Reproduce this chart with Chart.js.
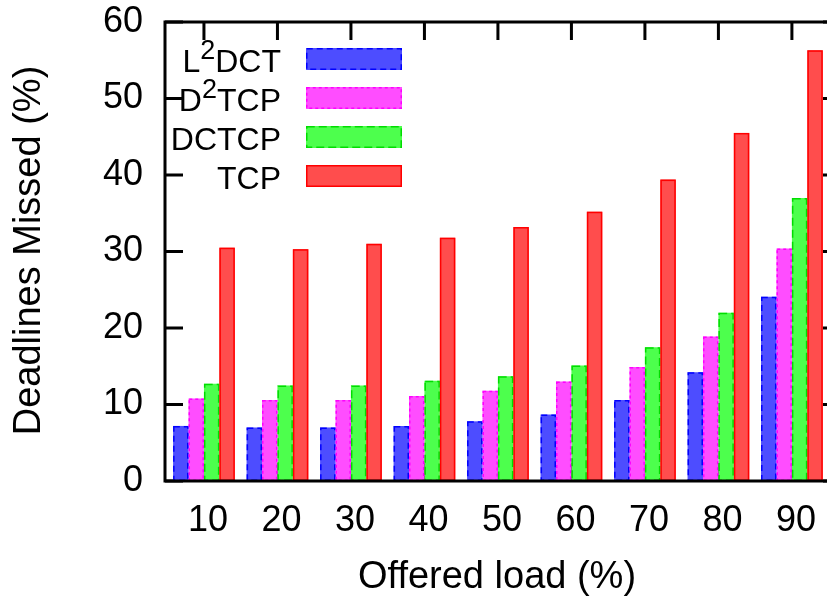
<!DOCTYPE html>
<html>
<head>
<meta charset="utf-8">
<title>Deadlines Missed vs Offered load</title>
<script src="https://cdn.jsdelivr.net/npm/chart.js@4.4.1/dist/chart.umd.min.js"></script>
<style>
  html, body { margin: 0; padding: 0; background: #fff; overflow: hidden; }
  #wrap { width: 850px; height: 599px; }
</style>
</head>
<body>
<div id="wrap"><canvas id="chart" width="850" height="599"></canvas></div>
<script>
// Offered load categories (%)
const loads = ['10', '20', '30', '40', '50', '60', '70', '80', '90'];

// Deadlines missed (%) per protocol
const l2dct = [7.2, 7.0, 7.0, 7.2, 7.8, 8.7, 10.6, 14.2, 24.1];
const d2tcp = [10.8, 10.6, 10.6, 11.1, 11.8, 13.0, 14.9, 18.9, 30.4];
const dctcp = [12.7, 12.5, 12.5, 13.1, 13.7, 15.1, 17.5, 22.0, 37.0];
const tcp   = [30.5, 30.3, 31.0, 31.8, 33.2, 35.2, 39.4, 45.5, 56.3];

// Y axis tick values
const yTicks = [0, 10, 20, 30, 40, 50, 60];

const seriesNames = ['L²DCT', 'D²TCP', 'DCTCP', 'TCP'];
const fillColors = ['rgb(77,77,255)', 'rgb(255,77,255)', 'rgb(77,255,77)', 'rgb(255,77,77)'];
const edgeColors = ['#0000ff', '#ff00ff', '#00dd00', '#ff0000'];
const edgeDashes = [[6, 4], [3, 3], [8, 4], []];

const FONT = '"Liberation Sans", Arial, Helvetica, sans-serif';
const TICK_LEN = 18;

const asPoints = vals => vals.map((v, i) => ({ x: i, y: v }));
const seriesValues = [l2dct, d2tcp, dctcp, tcp];

const datasets = seriesValues.map((vals, k) => ({
  label: seriesNames[k],
  data: asPoints(vals),
  backgroundColor: fillColors[k],
  borderWidth: 0,
  edgeColor: edgeColors[k],
  edgeDash: edgeDashes[k],
  categoryPercentage: 0.84,
  barPercentage: 1.0
}));

// Draws "X²Y" labels with a raised, smaller "2"
function drawRichLabel(ctx, label, rightX, baseline) {
  const parts = label.split('²');
  const main = '32px ' + FONT, sup = '27px ' + FONT;
  let total = 0;
  const pieces = [];
  parts.forEach((p, i) => {
    if (i > 0) {
      ctx.font = sup;
      const w = ctx.measureText('2').width;
      pieces.push({ t: '2', f: sup, w, dy: -13 });
      total += w;
    }
    ctx.font = main;
    const w = ctx.measureText(p).width;
    pieces.push({ t: p, f: main, w, dy: 0 });
    total += w;
  });
  let x = rightX - total;
  ctx.textAlign = 'left';
  ctx.textBaseline = 'alphabetic';
  pieces.forEach(pc => {
    ctx.font = pc.f;
    ctx.fillText(pc.t, x, baseline + pc.dy);
    x += pc.w;
  });
}

function strokeBox(ctx, left, top, w, h, color, dash) {
  ctx.save();
  ctx.strokeStyle = color;
  ctx.lineWidth = 1.5;
  ctx.setLineDash(dash);
  ctx.strokeRect(left + 0.75, top + 0.75, w - 1.5, h - 1.5);
  ctx.restore();
}

const framePlugin = {
  id: 'frame',
  beforeDatasetsDraw(chart) {
    const { ctx, chartArea: a, scales: { x, y } } = chart;
    ctx.save();
    ctx.strokeStyle = '#000';
    ctx.lineWidth = 3;
    ctx.beginPath();
    yTicks.forEach(v => {
      const py = y.getPixelForValue(v);
      ctx.moveTo(a.left, py); ctx.lineTo(a.left + TICK_LEN, py);
      ctx.moveTo(a.right - TICK_LEN, py); ctx.lineTo(a.right, py);
    });
    loads.forEach((_, i) => {
      const px = x.getPixelForValue(i);
      ctx.moveTo(px, a.top); ctx.lineTo(px, a.top + TICK_LEN);
      ctx.moveTo(px, a.bottom); ctx.lineTo(px, a.bottom - TICK_LEN);
    });
    ctx.stroke();
    ctx.restore();
  },
  afterDatasetsDraw(chart) {
    const { ctx, chartArea: a } = chart;
    // bar outlines
    chart.data.datasets.forEach((ds, di) => {
      const meta = chart.getDatasetMeta(di);
      meta.data.forEach(bar => {
        const p = bar.getProps(['x', 'y', 'base', 'width'], true);
        strokeBox(ctx, p.x - p.width / 2, p.y, p.width, p.base - p.y, ds.edgeColor, ds.edgeDash);
      });
    });
    // plot border
    ctx.save();
    ctx.strokeStyle = '#000';
    ctx.lineWidth = 3;
    ctx.strokeRect(a.left, a.top, a.right - a.left, a.bottom - a.top);
    ctx.restore();
  },
  afterDraw(chart) {
    const { ctx, chartArea: a } = chart;
    ctx.save();
    ctx.fillStyle = '#000';
    // key
    chart.data.datasets.forEach((ds, i) => {
      const cy = 59 + i * 39;
      drawRichLabel(ctx, ds.label, 281, cy + 13);
      ctx.fillStyle = ds.backgroundColor;
      ctx.fillRect(306, cy - 11, 96, 22);
      strokeBox(ctx, 306, cy - 11, 96, 22, ds.edgeColor, ds.edgeDash);
      ctx.fillStyle = '#000';
    });
    // axis titles
    ctx.font = '38px ' + FONT;
    ctx.textAlign = 'center';
    ctx.textBaseline = 'middle';
    ctx.fillText('Offered load (%)', 497, 578);
    ctx.translate(30, (a.top + a.bottom) / 2 - 1);
    ctx.rotate(-Math.PI / 2);
    ctx.fillText('Deadlines Missed (%)', 0, 0);
    ctx.restore();
  }
};

new Chart(document.getElementById('chart'), {
  type: 'bar',
  data: { datasets },
  options: {
    responsive: false,
    animation: false,
    devicePixelRatio: 1,
    layout: { padding: { top: 22, right: 9, left: 0, bottom: 0 } },
    plugins: { legend: { display: false }, tooltip: { enabled: false } },
    scales: {
      x: {
        type: 'linear',
        min: -0.53,
        max: 8.668,
        offset: false,
        grid: { display: false, drawTicks: false },
        border: { display: false },
        ticks: {
          stepSize: 1,
          includeBounds: false,
          autoSkip: false,
          maxRotation: 0,
          padding: 18,
          labelOffset: 4,
          color: '#000',
          font: { family: FONT, size: 36 },
          callback: v => {
            const i = Math.round(v);
            return Math.abs(v - i) < 1e-6 && loads[i] !== undefined ? loads[i] : '';
          }
        },
        afterFit: s => { s.height = 118; s.paddingLeft = 0; s.paddingRight = 0; }
      },
      y: {
        min: 0,
        max: 60,
        grid: { display: false, drawTicks: false },
        border: { display: false },
        ticks: {
          stepSize: 10,
          padding: 22,
          color: '#000',
          font: { family: FONT, size: 36 }
        },
        afterFit: s => { s.width = 165; s.paddingTop = 0; s.paddingBottom = 0; }
      }
    }
  },
  plugins: [framePlugin]
});
</script>
</body>
</html>
